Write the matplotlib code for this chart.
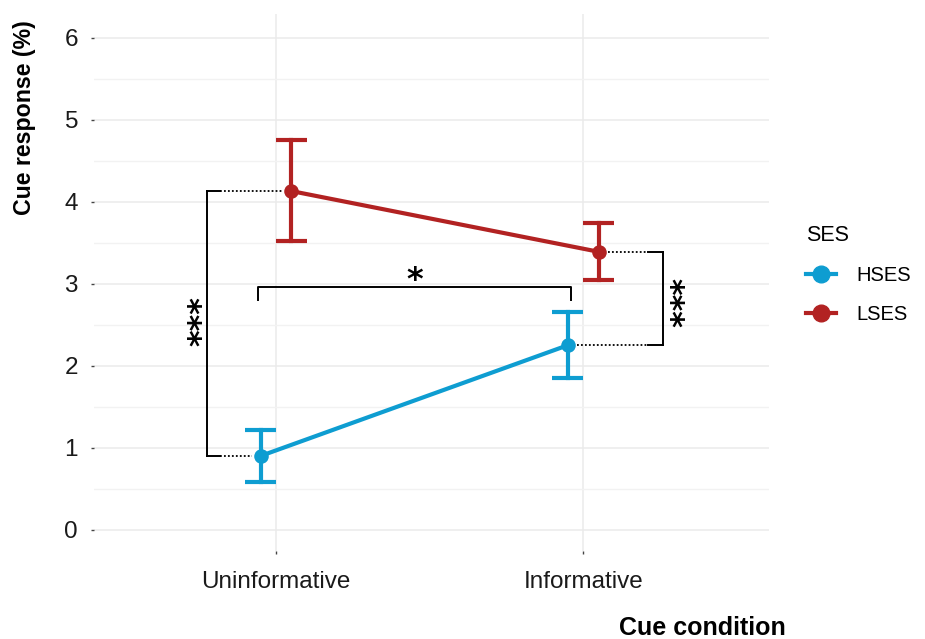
import numpy as np
import matplotlib.pyplot as plt
from matplotlib.lines import Line2D

plt.rcParams['font.family'] = ['Liberation Sans', 'DejaVu Sans']

# condition means and 95% CI per group
conditions = ['Uninformative', 'Informative']
groups = ['HSES', 'LSES']
hses_mean = [0.90, 2.25]
hses_low = [0.58, 1.85]
hses_high = [1.22, 2.65]
lses_mean = [4.13, 3.39]
lses_low = [3.52, 3.05]
lses_high = [4.75, 3.74]
colors = {'HSES': '#0E9DD1', 'LSES': '#B22222'}

dodge = 0.05
cap = 0.05

fig = plt.figure(figsize=(9.25, 6.39), dpi=100)
ax = fig.add_axes([94 / 925, 88 / 639, 675 / 925, 537 / 639])

x = np.arange(1, len(conditions) + 1)
series = {'HSES': (hses_mean, hses_low, hses_high, -dodge),
          'LSES': (lses_mean, lses_low, lses_high, dodge)}

for g in groups:
    m, lo, hi, off = series[g]
    xs = x + off
    c = colors[g]
    ax.plot(xs, m, color=c, lw=3, zorder=4, solid_capstyle='butt')
    for xi, l, h in zip(xs, lo, hi):
        ax.plot([xi, xi], [l, h], color=c, lw=3, zorder=4)
        ax.plot([xi - cap, xi + cap], [l, l], color=c, lw=3, zorder=4, solid_capstyle='butt')
        ax.plot([xi - cap, xi + cap], [h, h], color=c, lw=3, zorder=4, solid_capstyle='butt')
    ax.scatter(xs, m, s=110, color=c, zorder=5, linewidths=0)

# significance brackets
k = dict(color='black', lw=1.4, zorder=3)
dot = dict(color='black', lw=1.3, ls=(0, (1, 1.2)), zorder=3)
star = dict(ha='center', va='center', fontsize=23, fontweight='semibold', family='DejaVu Sans')

# between groups, uninformative
bx = 0.775
ax.plot([bx, bx + 0.042], [lses_mean[0], lses_mean[0]], **k)
ax.plot([bx, bx + 0.042], [hses_mean[0], hses_mean[0]], **k)
ax.plot([bx, bx], [hses_mean[0], lses_mean[0]], **k)
ax.plot([bx + 0.042, 1 + dodge - 0.03], [lses_mean[0], lses_mean[0]], **dot)
ax.plot([bx + 0.042, 1 - dodge - 0.03], [hses_mean[0], hses_mean[0]], **dot)
ax.text(0.759, 2.54, '***', rotation=90, **star)

# between groups, informative
rx = 2.26
ax.plot([rx - 0.05, rx], [lses_mean[1], lses_mean[1]], **k)
ax.plot([rx - 0.05, rx], [hses_mean[1], hses_mean[1]], **k)
ax.plot([rx, rx], [hses_mean[1], lses_mean[1]], **k)
ax.plot([2 + dodge + 0.03, rx - 0.05], [lses_mean[1], lses_mean[1]], **dot)
ax.plot([2 - dodge + 0.03, rx - 0.05], [hses_mean[1], hses_mean[1]], **dot)
ax.text(2.278, 2.77, '***', rotation=270, **star)

# within HSES, across conditions
ax.plot([1 - 0.06, 1 - 0.06, 1.96, 1.96], [2.8, 2.96, 2.96, 2.8],
        color='black', lw=1.4, zorder=3, solid_joinstyle='round')
ax.text(1.45, 3.04, '*', **star)

ax.set_xlim(0.407, 2.605)
ax.set_ylim(-0.26, 6.29)
ax.set_xticks(x)
ax.set_xticklabels(conditions)
ax.set_yticks(range(0, 7))
ax.set_yticks(np.arange(0.5, 6, 1), minor=True)
ax.grid(True, which='major', color='#EBEBEB', lw=1.1, zorder=0)
ax.grid(True, which='minor', axis='y', color='#F2F2F2', lw=1.0, zorder=0)
ax.set_axisbelow(True)
for s in ax.spines.values():
    s.set_visible(False)
ax.tick_params(axis='both', which='major', length=2.5, width=1, color='#444444',
               labelcolor='#1a1a1a')
ax.tick_params(axis='y', which='major', labelsize=17.5, pad=9)
ax.tick_params(axis='x', which='major', labelsize=17.5, pad=12)
ax.tick_params(axis='y', which='minor', length=0)

fig.text(702 / 925, 1 - 628 / 639, 'Cue condition', fontsize=18, fontweight='bold',
         ha='center', va='center')
fig.text(25 / 925, 1 - 20 / 639, 'Cue response (%)', fontsize=16.7, fontweight='bold',
         rotation=90, ha='center', va='top')

handles = [Line2D([0], [0], color=colors[g], lw=3, marker='o', markersize=12) for g in groups]
leg = fig.legend(handles, groups, title='SES', loc='upper left',
                 bbox_to_anchor=(788 / 925, 1 - 207 / 639), frameon=False,
                 fontsize=14.5, title_fontsize=15.5, handlelength=1.5,
                 handletextpad=1.0, labelspacing=1.0, alignment='left')

fig.savefig('out.png', dpi=100, facecolor='white')
